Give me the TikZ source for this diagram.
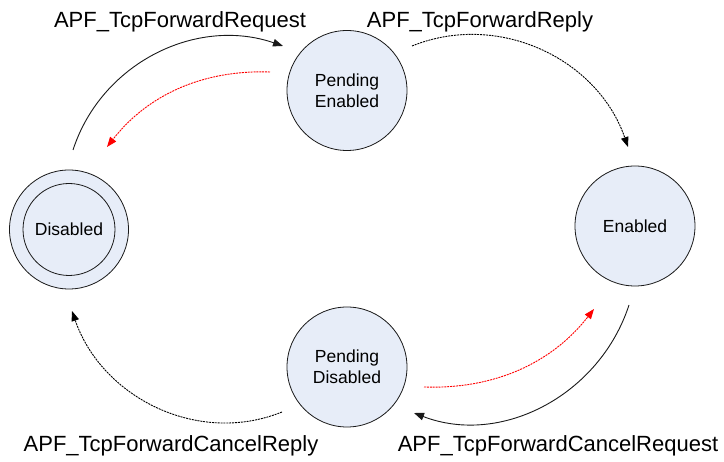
\documentclass[tikz,border=0pt]{standalone}
\usepackage{fontspec}
\setmainfont{Liberation Sans}
\usetikzlibrary{arrows.meta}
\definecolor{statefill}{RGB}{231,237,248}
\begin{document}
\begin{tikzpicture}[x=1pt,y=1pt,
  state/.style={circle,draw=black!90,line width=0.8pt,fill=statefill,
    minimum size=120pt,inner sep=0pt,align=center,
    font=\fontsize{17.5}{21}\selectfont},
  msg/.style={font=\fontsize{22}{26}\selectfont,anchor=base},
  tip/.style={-{Triangle[length=10pt,width=7.5pt]}},
  solidarrow/.style={tip,line width=0.9pt,black!90},
  dotarrow/.style={tip,line width=0.9pt,black,dash pattern=on 2pt off 0.9pt},
  redarrow/.style={tip,line width=0.9pt,red,dash pattern=on 2pt off 0.9pt}]
\useasboundingbox (0,0) rectangle (724,462);

% states
\node[state,minimum size=119pt] (dis) at (69,232.5) {};
\node[circle,draw=black!90,line width=0.8pt,minimum size=92pt,inner sep=0pt,
  font=\fontsize{17.5}{21}\selectfont] (disin) at (dis) {Disabled};
\node[state] (pen) at (347,371.5) {Pending\\Enabled};
\node[state] (ena) at (635,236) {Enabled};
\node[state] (pdis) at (347,95) {Pending\\Disabled};

% arrow end points
\coordinate (a1s) at (73,312);  \coordinate (a1e) at (283,416);
\coordinate (a2s) at (270,390); \coordinate (a2e) at (107,315);
\coordinate (a3s) at (412,416); \coordinate (a3e) at (628,315);
\coordinate (a4s) at (424,75);  \coordinate (a4e) at (594,153);
\coordinate (a5s) at (629,157); \coordinate (a5e) at (414,49);
\coordinate (a6s) at (282,50);  \coordinate (a6e) at (72,151);

% transitions
\draw[solidarrow] (a1s) to[out=72,in=161] (a1e);
\draw[redarrow]   (a2s) to[out=178,in=52,looseness=0.95] (a2e);
\draw[dotarrow]   (a3s) to[out=22,in=109] (a3e);
\draw[redarrow]   (a4s) to[out=358,in=232,looseness=0.95] (a4e);
\draw[solidarrow] (a5s) to[out=252,in=339] (a5e);
\draw[dotarrow]   (a6s) to[out=202,in=289] (a6e);

% messages
\node[msg] (m1) at (180,434) {APF\_TcpForwardRequest};
\node[msg] (m2) at (480,434) {APF\_TcpForwardReply};
\node[msg] (m3) at (171,10) {APF\_TcpForwardCancelReply};
\node[msg] (m4) at (558,10) {APF\_TcpForwardCancelRequest};
\end{tikzpicture}
\end{document}
